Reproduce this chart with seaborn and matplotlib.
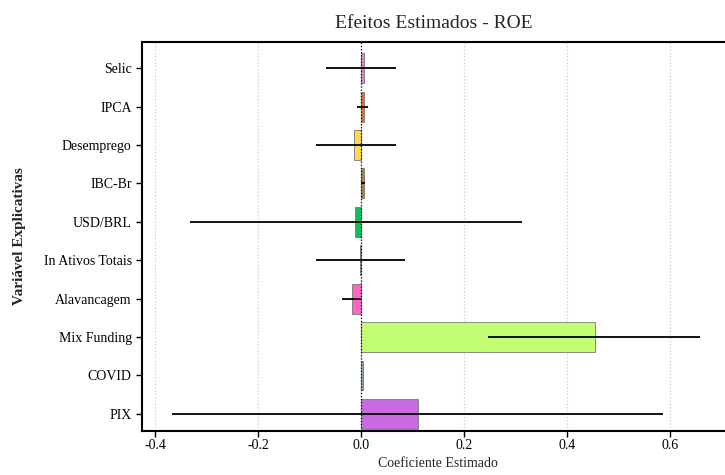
import numpy as np
import pandas as pd
import matplotlib
matplotlib.use("Agg")
import matplotlib.pyplot as plt
import seaborn as sns

# data
variaveis = ["Selic", "IPCA", "Desemprego", "IBC-Br", "USD/BRL",
             "In Ativos Totais", "Alavancagem", "Mix Funding", "COVID", "PIX"]
coef = [0.005, 0.004, -0.015, 0.004, -0.013, -0.002, -0.019, 0.453, 0.003, 0.109]
ci_low = [-0.068, -0.008, -0.088, -0.001, -0.333, -0.089, -0.037, 0.246, 0.003, -0.367]
ci_high = [0.068, 0.012, 0.068, 0.006, 0.311, 0.084, 0.000, 0.657, 0.003, 0.586]
cores = ["#D98BC9", "#E8702A", "#FFD84F", "#A8823F", "#12BD5B",
         "#1A9BB3", "#FF64C5", "#C4FF73", "#8FA89A", "#C86BE3"]

df = pd.DataFrame({"variavel": variaveis, "coef": coef,
                   "low": ci_low, "high": ci_high})
# centre of the error bar and half widths
df["mid"] = (df["low"] + df["high"]) / 2
df["half"] = (df["high"] - df["low"]) / 2

sns.set_style("white")
plt.rcParams["font.family"] = ["Liberation Serif", "DejaVu Serif"]

fig = plt.figure(figsize=(7.25, 4.75), dpi=100)
ax = fig.add_axes([0.196, 0.093, 0.804, 0.819])

sns.barplot(data=df, x="coef", y="variavel", hue="variavel", palette=cores,
            orient="h", width=0.78, saturation=1, edgecolor="#777777",
            linewidth=0.6, legend=False, ax=ax)

ypos = np.arange(len(df))
ax.errorbar(df["mid"], ypos, xerr=df["half"], fmt="none",
            ecolor="black", elinewidth=1.3, capsize=0, zorder=5)

ax.axvline(0, color="black", linestyle=(0, (1, 1.5)), linewidth=0.9, zorder=6)

ax.set_xlim(-0.426, 0.706)
ax.set_ylim(9.44, -0.685)
ax.set_xticks([-0.4, -0.2, 0.0, 0.2, 0.4, 0.6])
ax.set_xticklabels(["-0.4", "-0.2", "0.0", "0.2", "0.4", "0.6"])
ax.xaxis.grid(True, color="#cccccc", linestyle=":", linewidth=0.9)
ax.set_axisbelow(True)

for s in ["left", "bottom", "top"]:
    ax.spines[s].set_color("black")
    ax.spines[s].set_linewidth(1.5)
ax.spines["right"].set_visible(False)

ax.tick_params(axis="both", labelsize=10, colors="black", length=4,
               width=1, direction="out", left=True, bottom=True)
ax.tick_params(axis="x", pad=2)

ax.set_title("Efeitos Estimados - ROE", fontsize=14, pad=10)
ax.set_xlabel("Coeficiente Estimado", fontsize=10, va="center")
ax.set_ylabel("Variável Explicativas", fontsize=11, fontweight="bold")
ax.xaxis.set_label_coords(0.507, -0.083)
ax.yaxis.set_label_coords(-0.2, 0.5)

plt.savefig("out.png", dpi=100)
